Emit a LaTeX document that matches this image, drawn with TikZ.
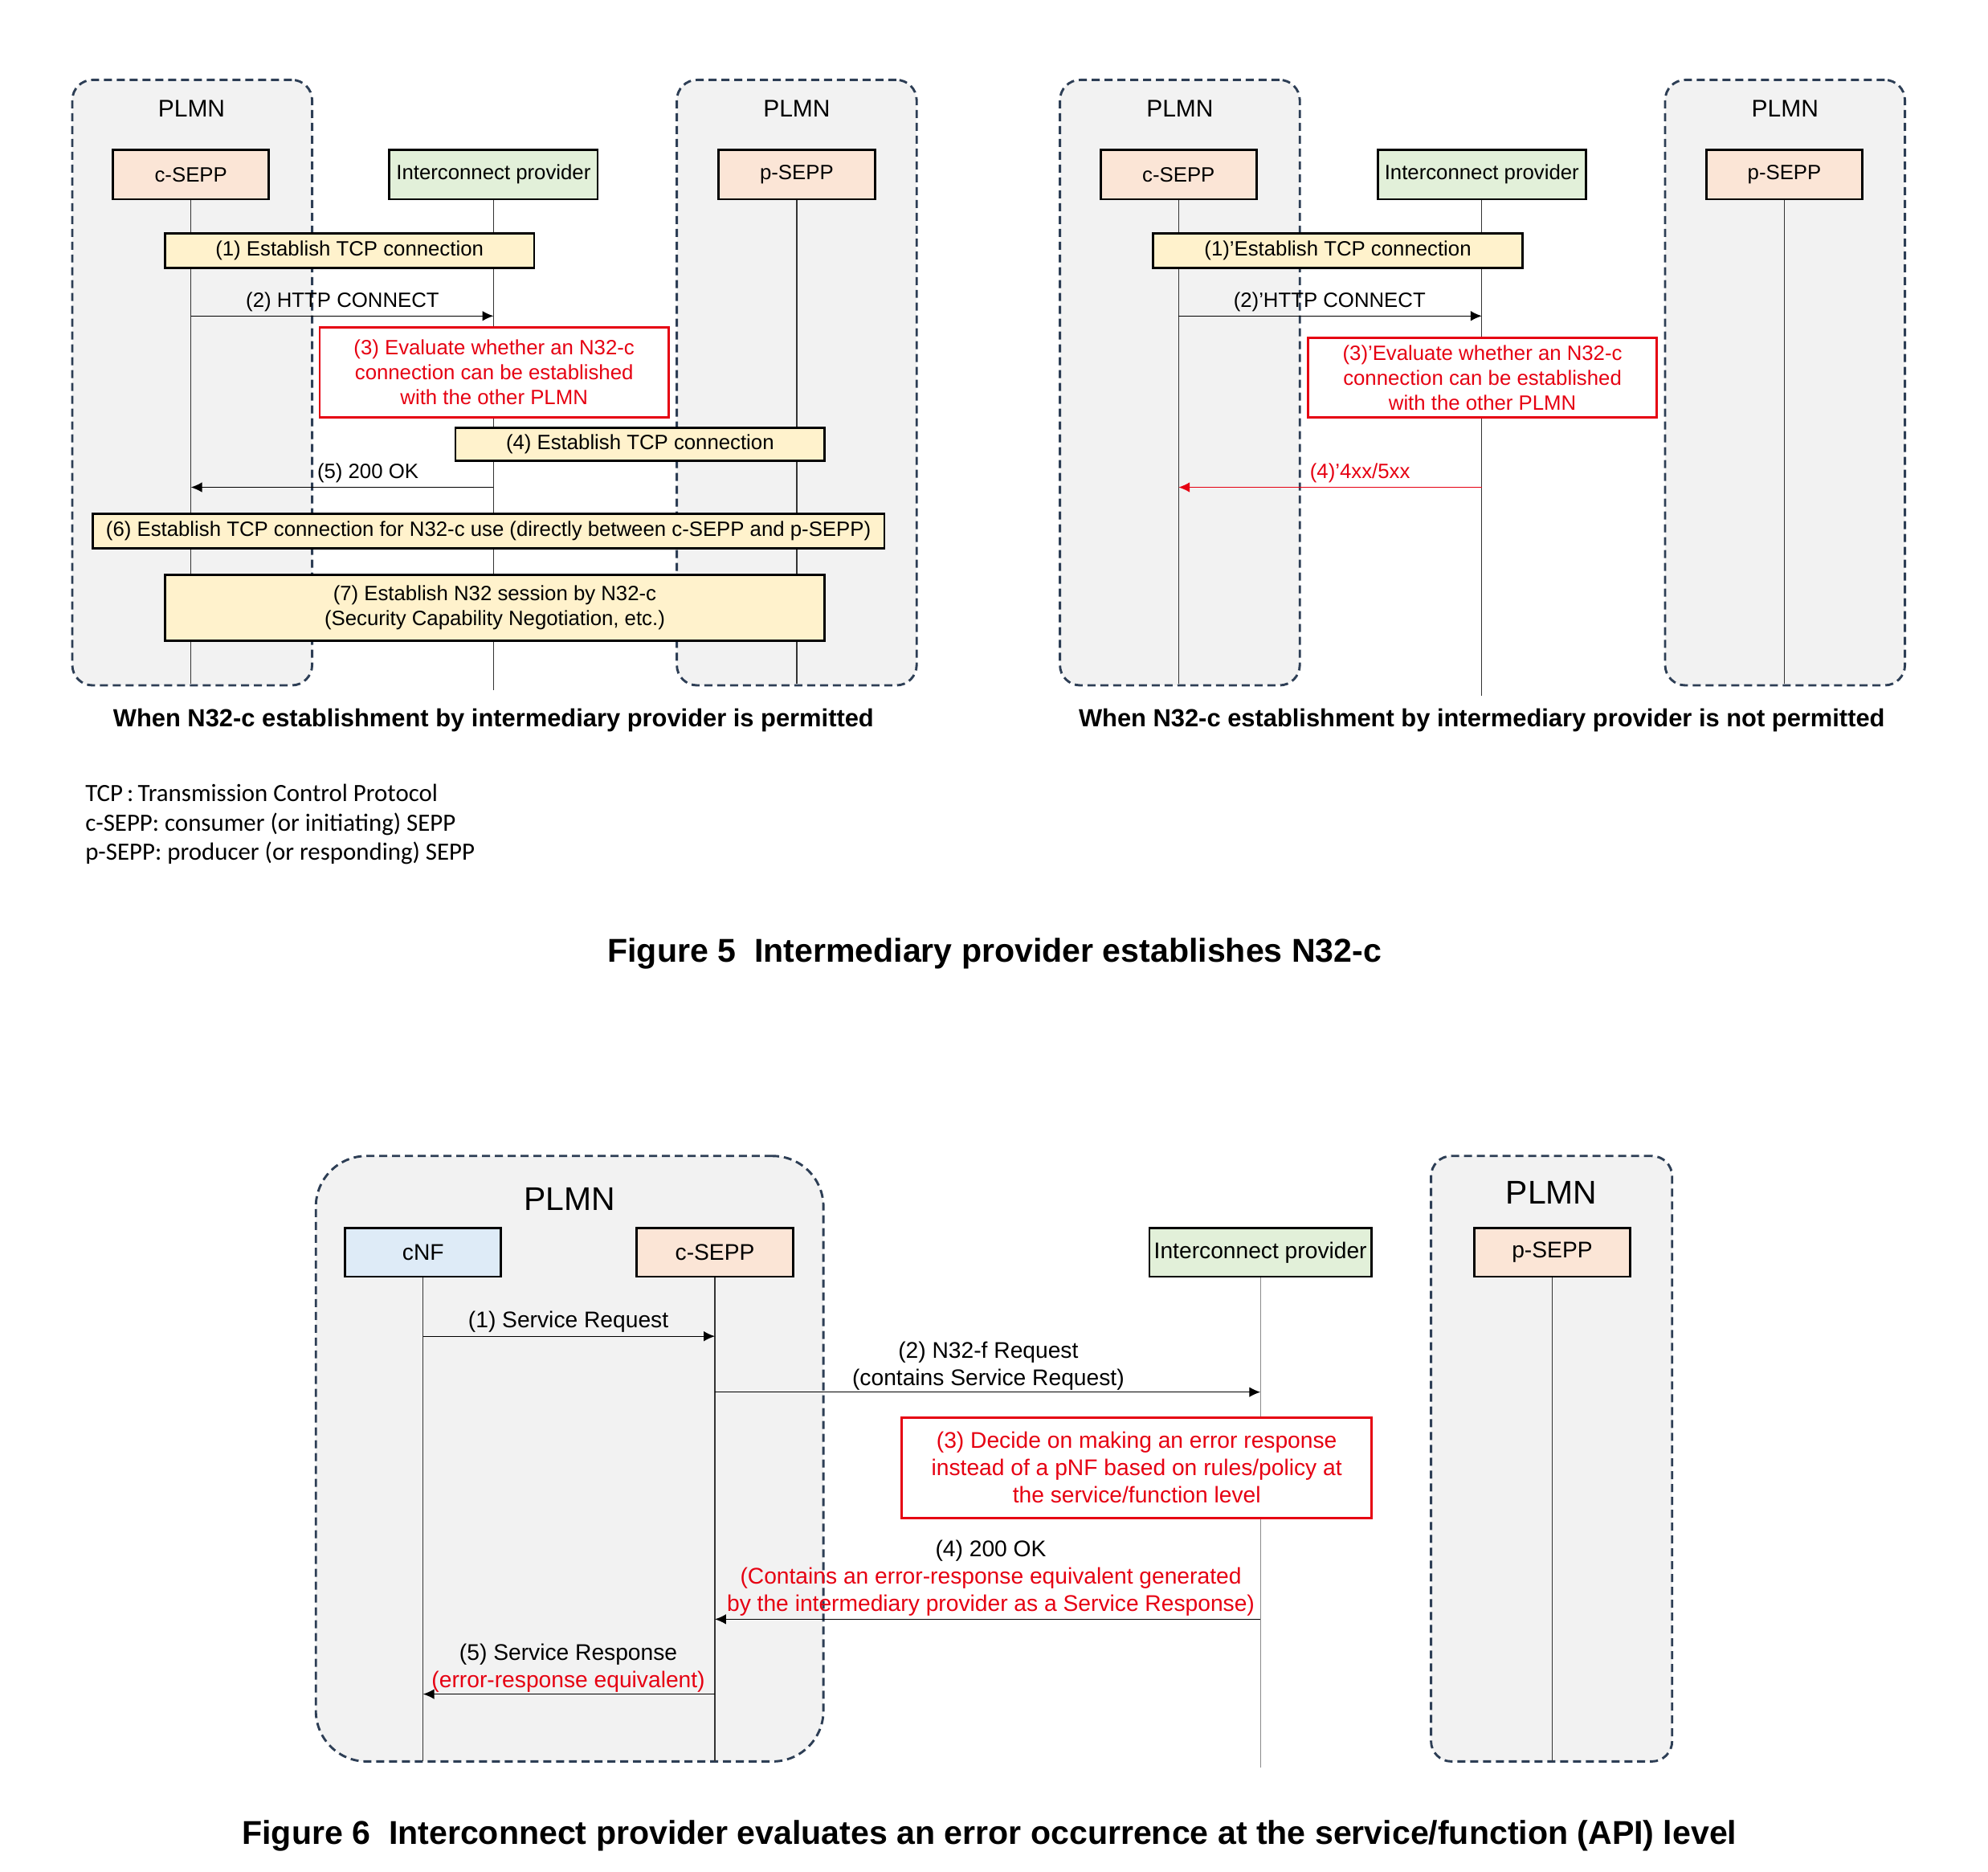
\documentclass[tikz,border=0pt]{standalone}
\usepackage{fontspec}
\setmainfont{Liberation Sans}
\newfontfamily\legendfont{Carlito}
\usetikzlibrary{arrows.meta}
\definecolor{plmnfill}{RGB}{242,242,242}
\definecolor{plmnline}{RGB}{45,62,85}
\definecolor{seppfill}{RGB}{251,229,214}
\definecolor{ipfill}{RGB}{226,240,217}
\definecolor{nffill}{RGB}{222,235,247}
\definecolor{stepfill}{RGB}{255,242,204}
\definecolor{evalred}{RGB}{230,0,18}
\newcommand{\fs}{\fontsize{11.6}{14}\selectfont}
\newcommand{\fb}{\fontsize{12.7}{15.3}\selectfont}

\begin{document}
\begin{tikzpicture}[x=0.025cm,y=-0.025cm,
		plmn/.style={draw=plmnline,fill=plmnfill,line width=1.3pt,dash pattern=on 4.5pt off 2.7pt,rounded corners=0.4cm,minimum width=4.725cm,minimum height=11.925cm,inner sep=0pt},
		ent/.style={draw,line width=1.3pt,inner sep=0pt,minimum height=0.975cm,font=\fs},
		sepp/.style={ent,fill=seppfill,minimum width=3.075cm},
		ipbox/.style={ent,fill=ipfill,minimum width=4.1cm},
		stepbox/.style={draw,line width=1.3pt,fill=stepfill,inner sep=0pt,align=center,font=\fs},
		evalbox/.style={draw=evalred,line width=1.3pt,fill=white,text=evalred,inner sep=0pt,align=center,font=\fs},
		life/.style={line width=0.6pt,draw=black!80},
		msg/.style={line width=0.6pt,-{Latex[length=2.2mm,width=2mm]}},
		lbl/.style={inner sep=0pt,yshift=-1.2pt,font=\fs},
		captext/.style={inner sep=0pt,yshift=-1.2pt,font=\fontsize{13.9}{16}\selectfont\bfseries},
		figtext/.style={inner sep=0pt,yshift=-1.2pt,font=\fontsize{18.5}{21}\selectfont\bfseries}]
	\useasboundingbox (0,0) rectangle (1567,1475);
	\begin{scope}
		\node[plmn] (A0) at (151.5,301.5) {};
		\node[plmn] (A1) at (628,301.5) {};
		\node[lbl,font=\fontsize{13.5}{16}\selectfont] (A0t) at (151,84) {PLMN};
		\node[lbl,font=\fontsize{13.5}{16}\selectfont] (A1t) at (628,84) {PLMN};
		\node[sepp] (Acs) at (150.5,137.5) {c-SEPP};
		\node[ipbox] (Aip) at (389,137.5) {Interconnect provider};
		\node[sepp] (Aps) at (628,137.5) {p-SEPP};
		\coordinate (Acs0) at (150.5,539);
		\coordinate (Aip0) at (389,544);
		\coordinate (Aps0) at (628,539);
		\draw[life] (Acs) to (Acs0);
		\draw[life] (Aip) to (Aip0);
		\draw[life] (Aps) to (Aps0);

		\node[stepbox,minimum width=7.275cm,minimum height=0.675cm] (A1s) at (275.5,197.5) {(1) Establish TCP connection};
		\coordinate (A2a) at (150.5,249);
		\coordinate (A2b) at (389,249);
		\draw[msg] (A2a) to (A2b);
		\node[lbl] (A2l) at (270,236) {(2) HTTP CONNECT};
		\node[evalbox,minimum width=6.875cm,minimum height=1.775cm] (A3s) at (389.5,293.5) {(3) Evaluate whether an N32-c\\connection can be established\\with the other PLMN};
		\node[stepbox,minimum width=7.275cm,minimum height=0.65cm] (A4s) at (504.5,350) {(4) Establish TCP connection};
		\coordinate (A5a) at (389,384);
		\coordinate (A5b) at (150.5,384);
		\draw[msg] (A5a) to (A5b);
		\node[lbl] (A5l) at (290,371) {(5) 200 OK};
		\node[stepbox,minimum width=15.6cm,minimum height=0.675cm] (A6s) at (385,418.5) {(6) Establish TCP connection for N32-c use (directly between c-SEPP and p-SEPP)};
		\node[stepbox,minimum width=13cm,minimum height=1.3cm] (A7s) at (390,479) {(7) Establish N32 session by N32-c\\(Security Capability Negotiation, etc.)};
		\node[captext] (Acap) at (389,566) {When N32-c establishment by intermediary provider is permitted};
	\end{scope}

	\begin{scope}
		\node[plmn] (B0) at (930,301.5) {};
		\node[plmn] (B1) at (1407,301.5) {};
		\node[lbl,font=\fontsize{13.5}{16}\selectfont] (B0t) at (930,84) {PLMN};
		\node[lbl,font=\fontsize{13.5}{16}\selectfont] (B1t) at (1407,84) {PLMN};
		\node[sepp] (Bcs) at (929,137.5) {c-SEPP};
		\node[ipbox] (Bip) at (1168,137.5) {Interconnect provider};
		\node[sepp] (Bps) at (1406.5,137.5) {p-SEPP};
		\coordinate (Bcs0) at (929,539);
		\coordinate (Bip0) at (1168,548);
		\coordinate (Bps0) at (1406.5,539);
		\draw[life] (Bcs) to (Bcs0);
		\draw[life] (Bip) to (Bip0);
		\draw[life] (Bps) to (Bps0);

		\node[stepbox,minimum width=7.275cm,minimum height=0.675cm] (B1s) at (1054.5,197.5) {(1)'Establish TCP connection};
		\coordinate (B2a) at (929,249);
		\coordinate (B2b) at (1168,249);
		\draw[msg] (B2a) to (B2b);
		\node[lbl] (B2l) at (1048,236) {(2)'HTTP CONNECT};
		\node[evalbox,minimum width=6.875cm,minimum height=1.575cm] (B3s) at (1168.5,297.5) {(3)'Evaluate whether an N32-c\\connection can be established\\with the other PLMN};
		\coordinate (B4a) at (1168,384);
		\coordinate (B4b) at (929,384);
		\draw[msg,draw=evalred,fill=evalred] (B4a) to (B4b);
		\node[lbl,text=evalred] (B4l) at (1072,371) {(4)'4xx/5xx};
		\node[captext] (Bcap) at (1168,566) {When N32-c establishment by intermediary provider is not permitted};
	\end{scope}

	\node[inner sep=0pt,anchor=west,align=left,yshift=-1.2pt,font=\legendfont\fontsize{13.9}{16.4}\selectfont] (L) at (67,648) {TCP\,:\,Transmission Control Protocol\\c-SEPP: consumer (or initiating) SEPP\\p-SEPP: producer (or responding) SEPP};
	\node[figtext] (F5) at (784,750) {Figure 5\ \ Intermediary provider establishes N32-c};

	\begin{scope}[ent/.append style={minimum height=0.95cm,font=\fb},lbl/.append style={font=\fb,align=center},evalbox/.append style={font=\fb}]
		\node[plmn,rounded corners=1cm,minimum width=10cm] (C0) at (449,1149.5) {};
		\node[plmn,minimum width=4.75cm] (C1) at (1223,1149.5) {};
		\node[lbl,font=\fontsize{18.4}{20}\selectfont] (C0t) at (449,943) {PLMN};
		\node[lbl,font=\fontsize{18.4}{20}\selectfont] (C1t) at (1223,938) {PLMN};
		\node[ent,fill=nffill,minimum width=3.075cm] (Cnf) at (333.5,987) {cNF};
		\node[sepp] (Ccs) at (563.5,987) {c-SEPP};
		\node[ipbox,minimum width=4.375cm] (Cip) at (993.5,987) {Interconnect provider};
		\node[sepp] (Cps) at (1223.5,987) {p-SEPP};
		\coordinate (Cnf0) at (333.5,1388);
		\coordinate (Ccs0) at (563.5,1388);
		\coordinate (Cip0) at (993.5,1393);
		\coordinate (Cps0) at (1223.5,1388);
		\draw[life] (Cnf) to (Cnf0);
		\draw[life] (Ccs) to (Ccs0);
		\draw[life,draw=black!45] (Cip) to (Cip0);
		\draw[life] (Cps) to (Cps0);

		\coordinate (C1a) at (333.5,1053);
		\coordinate (C1b) at (563.5,1053);
		\draw[msg] (C1a) to (C1b);
		\node[lbl] (C1l) at (448,1040) {(1) Service Request};
		\coordinate (C2a) at (563.5,1097);
		\coordinate (C2b) at (993.5,1097);
		\draw[msg] (C2a) to (C2b);
		\node[lbl] (C2l) at (779,1074.5) {(2) N32-f Request\\(contains Service Request)};
		\node[evalbox,minimum width=9.25cm,minimum height=1.975cm] (C3s) at (896,1156.5) {(3) Decide on making an error response\\instead of a pNF based on rules/policy at\\the service/function level};
		\coordinate (C4a) at (993.5,1276);
		\coordinate (C4b) at (563.5,1276);
		\draw[msg] (C4a) to (C4b);
		\node[lbl] (C4l) at (781,1242) {(4) 200 OK\\\textcolor{evalred}{(Contains an error-response equivalent generated}\\\textcolor{evalred}{by the intermediary provider as a Service Response)}};
		\coordinate (C5a) at (563.5,1335);
		\coordinate (C5b) at (333.5,1335);
		\draw[msg] (C5a) to (C5b);
		\node[lbl] (C5l) at (448,1312.5) {(5) Service Response\\\textcolor{evalred}{(error-response equivalent)}};
	\end{scope}
	\node[figtext] (F6) at (780,1445) {Figure 6\ \ Interconnect provider evaluates an error occurrence at the service/function (API) level};
\end{tikzpicture}
\end{document}
